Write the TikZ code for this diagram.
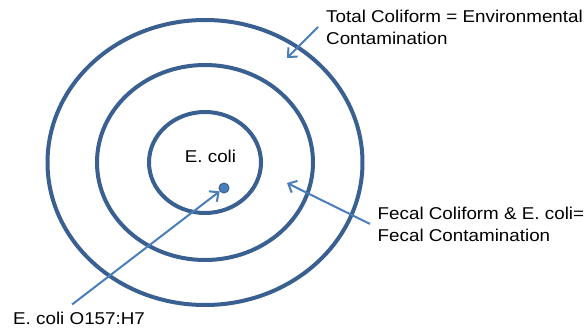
\documentclass[tikz,border=0pt]{standalone}
\usepackage{fontspec}
\setmainfont{Liberation Sans}[FakeStretch=1.1]
\usetikzlibrary{arrows.meta}
\definecolor{ringblue}{RGB}{58,96,145}
\definecolor{arrowblue}{RGB}{74,126,187}
\begin{document}
\begin{tikzpicture}[x=1pt, y=-1pt,
  ring/.style={line width=4pt, ringblue},
  pointer/.style={line width=2pt, arrowblue, -{Straight Barb[length=7pt, width=13pt]}},
  lbl/.style={font=\fontsize{17.1}{22}\selectfont, align=left, inner sep=0pt, anchor=north west}]
\useasboundingbox (0,0) rectangle (587,331);
\draw[ring] (205,162.5) ellipse [x radius=157.5pt, y radius=142.5pt];
\draw[ring] (205,162.5) ellipse [x radius=108pt, y radius=97.5pt];
\draw[ring] (205,162.5) ellipse [x radius=56pt, y radius=50.5pt];
\node[circle, fill=arrowblue, draw=ringblue, line width=1pt, minimum size=10pt, inner sep=0pt] (dot) at (224,188) {};
\node[font=\fontsize{17.1}{22}\selectfont, inner sep=0pt] (ecoli) at (210.5,156.5) {E. coli};
\node[lbl] (total) at (326,9.5) {Total Coliform = Environmental\\Contamination};
\node[lbl] (fecal) at (377.5,206.5) {Fecal Coliform \& E. coli=\\Fecal Contamination};
\node[lbl] (o157) at (13,311.5) {E. coli O157:H7};
\coordinate (totaltip) at (287,58);
\coordinate (fecaltip) at (287,183);
\draw[pointer] ([xshift=-8pt]total.west) -- (totaltip);
\draw[pointer] ([xshift=-7.5pt]fecal.west) -- (fecaltip);
\draw[pointer] ([shift={(-7pt,7pt)}]o157.north) -- (dot);
\end{tikzpicture}
\end{document}
